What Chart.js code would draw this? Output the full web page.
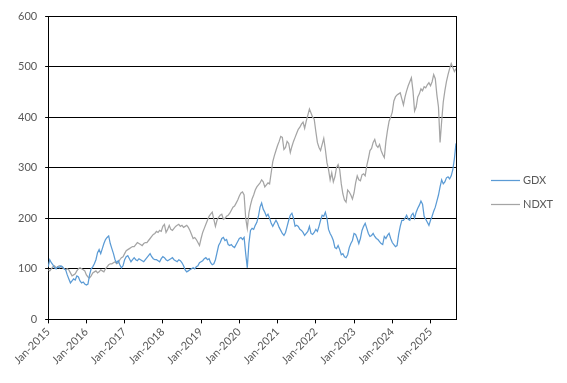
<!DOCTYPE html>
<html>
<head>
<meta charset="utf-8">
<script src="https://cdn.jsdelivr.net/npm/chart.js@4.4.1/dist/chart.umd.min.js"></script>
<style>
  html, body { margin: 0; padding: 0; background: #ffffff; }
  #wrap { width: 567px; height: 383px; position: relative; }
</style>
</head>
<body>
<div id="wrap"><canvas id="c" width="567" height="383"></canvas></div>
<script>
// Semi-monthly observations (1st and 15th of each month), Jan-2015 .. Sep-2025
const startYear = 2015;
const seriesNames = ['GDX', 'NDXT'];
const tickLabels = ['Jan-2015','Jan-2016','Jan-2017','Jan-2018','Jan-2019','Jan-2020','Jan-2021','Jan-2022','Jan-2023','Jan-2024','Jan-2025'];

const gdx = [
  104,118,112,108,102,100,104,102,106,104,100,98,88,80,72,76,80,78,86,84,76,72,74,70,
  68,70,88,100,104,110,118,132,138,130,140,150,158,162,165,150,140,130,118,112,116,108,102,106,
  118,124,126,120,114,118,122,118,116,120,118,116,114,118,122,126,130,124,120,118,118,116,114,120,
  124,122,118,116,118,120,122,118,116,114,118,116,112,106,98,94,96,98,100,102,100,104,106,112,
  114,116,120,122,118,120,112,108,110,118,132,146,152,160,162,156,158,148,146,148,144,142,148,154,
  160,162,158,162,130,102,150,176,180,178,186,192,204,222,230,218,212,204,208,200,190,184,190,196,
  190,182,176,170,166,172,184,196,206,210,200,184,186,184,178,176,172,166,170,174,184,170,168,172,
  178,174,184,196,206,204,212,200,178,170,164,156,142,140,146,138,128,130,124,122,128,142,150,156,
  170,168,160,150,160,176,184,190,180,170,164,166,170,164,160,158,154,150,148,164,160,166,170,160,
  152,148,144,146,168,184,196,196,200,206,198,196,206,210,200,212,220,226,234,228,204,198,192,186,
  196,204,214,222,234,246,262,276,268,272,280,282,278,284,296,318,348
];

const ndxt = [
  98,96,100,104,106,102,104,106,104,102,100,98,100,98,92,86,88,90,96,100,102,100,98,96,
  88,84,82,86,92,94,96,92,94,98,96,94,100,104,108,110,110,112,114,110,112,118,122,124,
  130,136,138,140,142,144,144,148,152,150,148,146,150,152,152,156,160,164,168,170,174,172,176,174,
  184,188,172,178,186,178,176,180,184,186,188,184,186,182,184,186,182,176,168,160,162,158,152,146,
  160,172,180,188,196,204,208,212,198,184,196,202,206,208,198,200,204,206,210,216,222,224,230,236,
  244,250,252,246,200,180,210,226,238,246,256,262,266,270,276,272,262,266,270,268,290,312,324,334,
  344,352,362,360,336,340,352,348,330,342,352,360,368,376,380,386,390,378,392,404,416,408,400,396,
  372,350,340,334,346,358,336,310,296,276,290,272,282,300,306,296,268,248,236,232,256,252,246,238,
  250,270,284,276,274,286,288,284,304,318,334,338,350,356,344,340,346,334,326,320,352,374,392,400,
  410,432,440,444,446,448,436,424,440,452,462,470,478,452,412,420,440,446,456,452,460,458,464,468,
  462,470,484,476,444,420,350,392,430,452,470,484,496,506,498,490,496
];

// x position in months since Jan-2015 (index i -> month i/2)
function toPoints(vals) {
  return vals.map((v, i) => ({ x: i / 2, y: v }));
}
const lastX = (gdx.length - 1) / 2;

const FONT = 'Lato, "Liberation Sans", sans-serif';
const TEXT = '#595959';

const frame = {
  id: 'frame',
  afterDatasetsDraw(chart) {
    const { ctx, chartArea } = chart;
    ctx.save();
    ctx.strokeStyle = '#000';
    ctx.lineWidth = 1;
    ctx.beginPath();
    const x = Math.round(chartArea.right) + 0.5;
    ctx.moveTo(x, chartArea.top);
    ctx.lineTo(x, chartArea.bottom);
    ctx.stroke();
    ctx.restore();
  },
  afterDraw(chart) {
    const { ctx } = chart;
    const cy = chart.height / 2;
    const gap = 24;
    const n = chart.data.datasets.length;
    ctx.save();
    ctx.font = '11px ' + FONT;
    ctx.textBaseline = 'middle';
    ctx.textAlign = 'left';
    chart.data.datasets.forEach((ds, i) => {
      const y = Math.round(cy + (i - (n - 1) / 2) * gap) + 0.5;
      ctx.strokeStyle = ds.borderColor;
      ctx.lineWidth = 1.25;
      ctx.beginPath();
      ctx.moveTo(491, y);
      ctx.lineTo(520, y);
      ctx.stroke();
      ctx.fillStyle = TEXT;
      ctx.fillText(ds.label, 523, y);
    });
    ctx.restore();
  }
};

new Chart(document.getElementById('c'), {
  type: 'line',
  data: {
    datasets: [
      { label: seriesNames[0], data: toPoints(gdx), borderColor: '#5B9BD5', borderWidth: 1.25, pointRadius: 0, tension: 0, fill: false },
      { label: seriesNames[1], data: toPoints(ndxt), borderColor: '#A5A5A5', borderWidth: 1.25, pointRadius: 0, tension: 0, fill: false }
    ]
  },
  options: {
    responsive: false,
    animation: false,
    events: [],
    layout: { padding: { left: 10, right: 111, top: 16, bottom: 14 } },
    plugins: { legend: { display: false }, tooltip: { enabled: false } },
    scales: {
      x: {
        type: 'linear',
        min: 0,
        max: lastX,
        afterBuildTicks(scale) {
          scale.ticks = tickLabels.map((_, i) => ({ value: i * 12 }));
        },
        ticks: {
          autoSkip: false,
          minRotation: 45,
          maxRotation: 45,
          color: TEXT,
          font: { family: FONT, size: 11 },
          padding: 2,
          callback: (v) => tickLabels[Math.round(v / 12)]
        },
        grid: { drawOnChartArea: false, drawTicks: true, tickLength: 4, color: '#000' },
        border: { display: true, color: '#000', width: 1 }
      },
      y: {
        min: 0,
        max: 600,
        ticks: { stepSize: 100, color: TEXT, font: { family: FONT, size: 11 }, padding: 8 },
        grid: { color: '#000', lineWidth: 1, tickLength: 3, drawTicks: true },
        border: { display: true, color: '#000', width: 1 }
      }
    }
  },
  plugins: [frame]
});
</script>
</body>
</html>
